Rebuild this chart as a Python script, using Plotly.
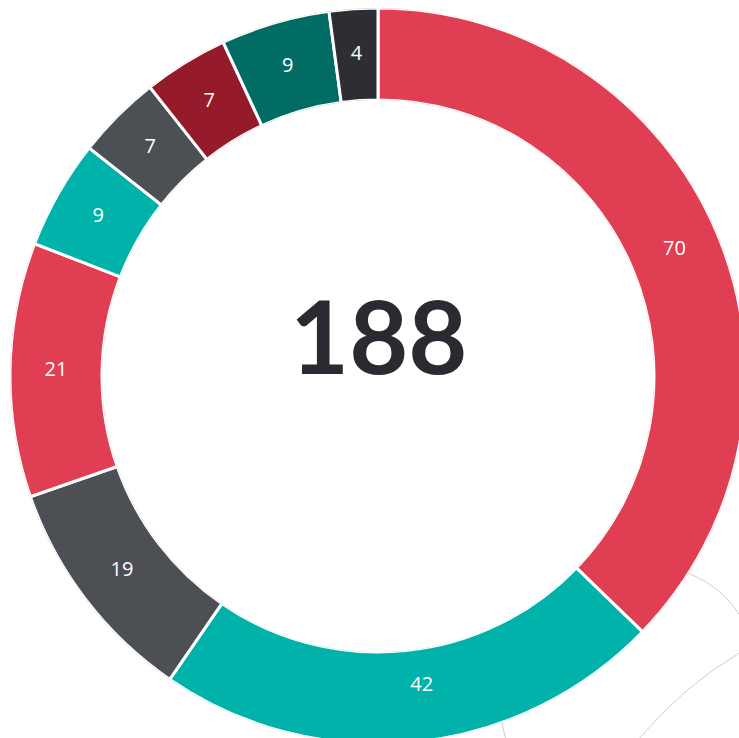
import numpy as np
import plotly.graph_objects as go

labels = ["A", "B", "C", "D", "E", "F", "G", "H", "I"]
values = [70, 42, 19, 21, 9, 7, 7, 9, 4]
colors = ["#E03E52", "#00B2A9", "#4C4F54", "#E03E52", "#00B2A9",
          "#4C4F54", "#951A2A", "#006C63", "#2D2E33"]
total_label = str(sum(values))

W, H = 746, 744


def px(x, y):
    return x / W, 1 - y / H


vals = np.array(values, dtype=float)
total = vals.sum()
span = vals / total * 360.0
mid = (np.cumsum(vals) - vals / 2) / total * 360.0

fig = go.Figure()
fig.add_trace(go.Barpolar(
    theta=mid, width=span, r=[1] * len(values), base=0,
    marker=dict(color=colors, line=dict(color="white", width=3)),
    text=labels, hoverinfo="text", showlegend=False,
))
textpos = ["middle center"] * len(values)
textpos[1] = "top right"
fig.add_trace(go.Scatterpolar(
    theta=mid, r=[0.5] * len(values), mode="text",
    text=[str(v) for v in values], textposition=textpos,
    textfont=dict(family="Open Sans", size=20, color="white"),
    hoverinfo="skip", showlegend=False,
))

cx, cy = px(378, 335)
fig.add_annotation(x=cx, y=cy, xref="paper", yref="paper", text="<b>" + total_label + "</b>",
                   showarrow=False, xanchor="center", yanchor="middle",
                   font=dict(family="Lato", size=102, color="#2A2B30", weight=900))


def path(points):
    (x0, y0), (x1, y1), (x2, y2) = [px(*p) for p in points]
    return f"M {x0} {y0} Q {x1} {y1} {x2} {y2}"


deco = [
    [(688, 573), (722, 586), (741, 617)],
    [(638, 740), (683, 686), (741, 652)],
    [(502, 721), (503, 730), (506, 740)],
]
for d in deco:
    fig.add_shape(type="path", path=path(d), xref="paper", yref="paper",
                  line=dict(color="#CFCFCF", width=1), layer="below")

fig.update_layout(
    width=W, height=H, margin=dict(l=0, r=0, t=0, b=0),
    paper_bgcolor="white",
    polar=dict(
        domain=dict(x=[10 / W, 1.0], y=[0.0, 1 - 8 / H]),
        hole=0.75, bgcolor="rgba(0,0,0,0)", bargap=0,
        radialaxis=dict(range=[0, 1], visible=False),
        angularaxis=dict(rotation=90, direction="clockwise", visible=False),
    ),
)

fig.write_html(
    "out.html",
    config={"displayModeBar": False},
    post_script="document.documentElement.style.overflow='hidden';"
                "document.body.style.overflow='hidden';"
                "document.body.style.margin='0';",
)
